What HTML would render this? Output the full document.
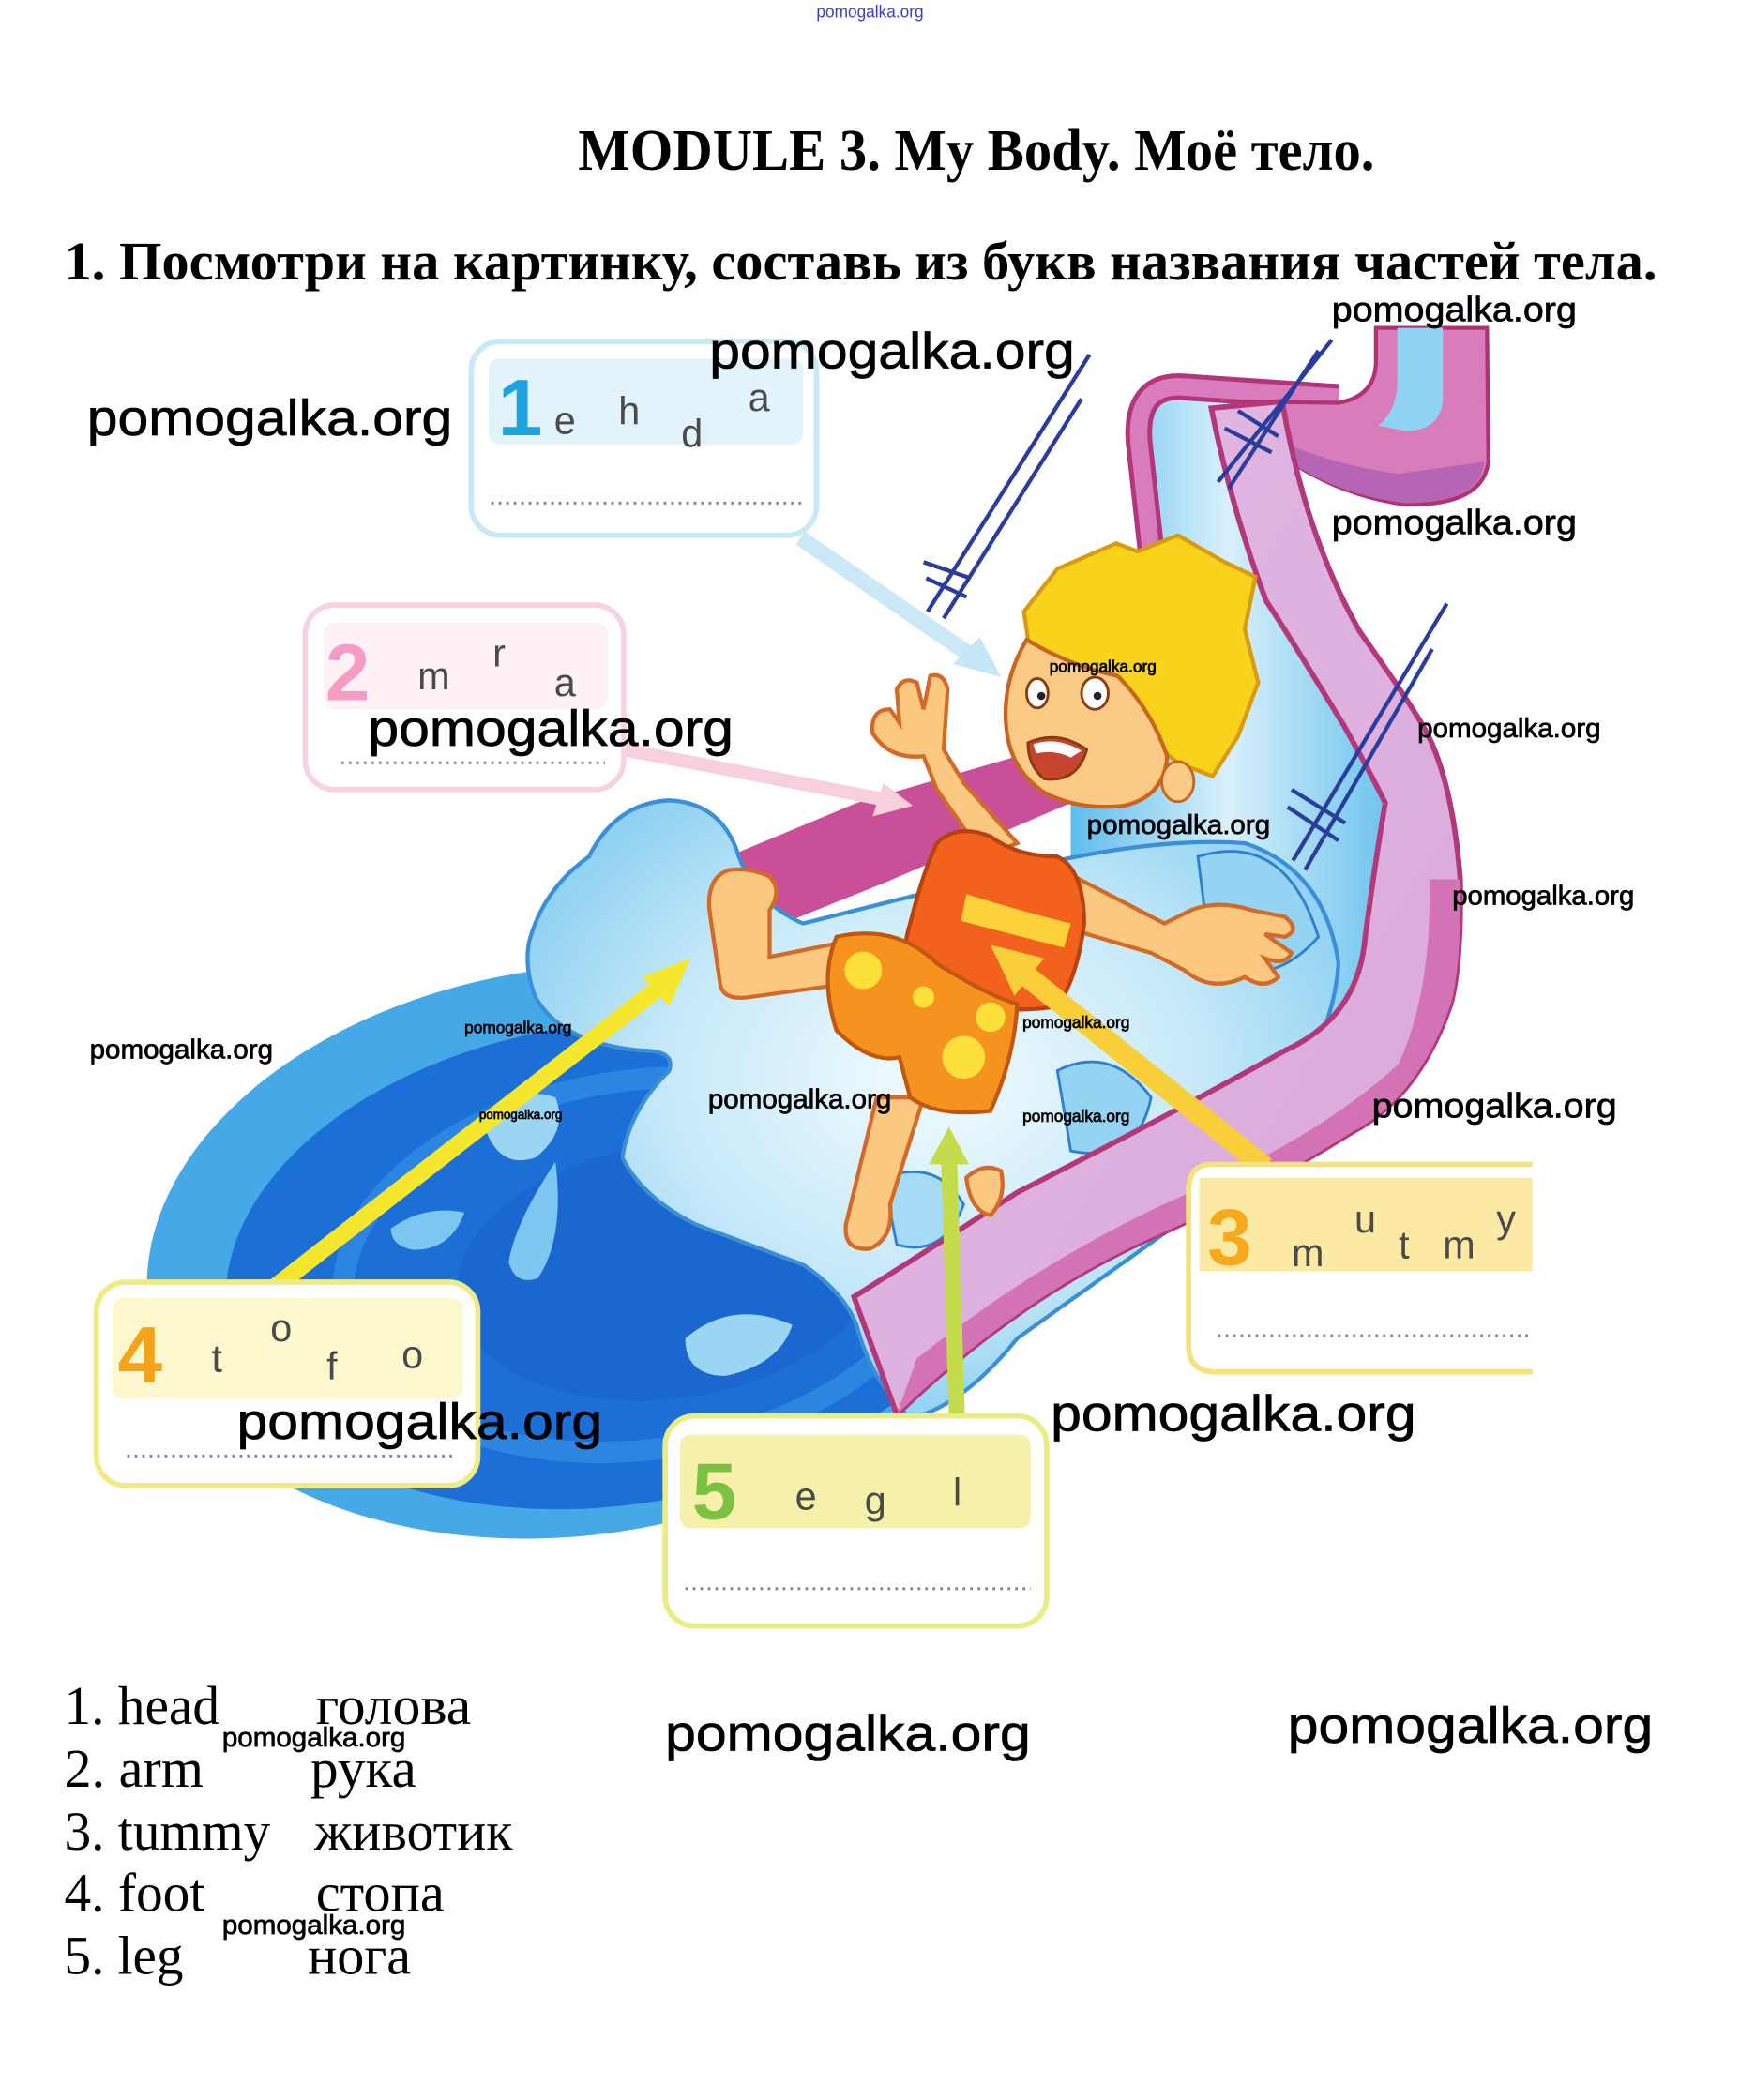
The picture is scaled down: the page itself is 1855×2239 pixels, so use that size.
<!DOCTYPE html>
<html><head><meta charset="utf-8"><style>
html,body{margin:0;padding:0;background:#fff;}
svg{display:block;}
.wm{font-family:"Liberation Sans",sans-serif;fill:#000;stroke:#000;stroke-width:0.5;}
.ser{font-family:"Liberation Serif","Noto Serif CJK SC",serif;fill:#000;}
.lt{font-family:"Liberation Sans",sans-serif;fill:#4a4a4a;font-size:29px;}
.num{font-family:"Liberation Sans",sans-serif;font-weight:bold;font-size:60px;}
</style></head><body>
<svg width="1855" height="2239" viewBox="0 0 1300 1569.1" preserveAspectRatio="none" xmlns="http://www.w3.org/2000/svg">
<defs>
<radialGradient id="spl" cx="0.5" cy="0.45" r="0.6"><stop offset="0" stop-color="#f2fbff"/><stop offset="0.55" stop-color="#c6e9f9"/><stop offset="1" stop-color="#86cdf0"/></radialGradient>
<linearGradient id="sl" x1="0" y1="0" x2="1" y2="0"><stop offset="0" stop-color="#5fbcec"/><stop offset="0.5" stop-color="#d8f0fb"/><stop offset="1" stop-color="#6fc4ee"/></linearGradient>
<linearGradient id="band" x1="0" y1="0" x2="1" y2="1"><stop offset="0" stop-color="#e2bde3"/><stop offset="1" stop-color="#d9a6da"/></linearGradient>
</defs>
<rect x="0" y="0" width="1300" height="1570" fill="#fff"/>

<!-- top small watermark -->
<text x="610" y="13" font-family="Liberation Sans Narrow,Liberation Sans,sans-serif" font-size="13" fill="#3b3bd0" textLength="80" lengthAdjust="spacingAndGlyphs">pomogalka.org</text>

<!-- title -->
<text class="ser" x="432" y="127" font-size="44" font-weight="bold" textLength="595" lengthAdjust="spacingAndGlyphs">MODULE 3. My Body. Моё тело.</text>
<text class="ser" x="48" y="209" font-size="41" font-weight="bold" textLength="1190" lengthAdjust="spacingAndGlyphs">1. Посмотри на картинку, составь из букв названия частей тела.</text>

<!-- ===== ILLUSTRATION ===== -->
<!-- pool -->
<ellipse cx="430" cy="935" rx="322" ry="212" fill="#45a9e8" transform="rotate(-8 430 935)"/>
<ellipse cx="455" cy="945" rx="288" ry="180" fill="#1c6fd6" transform="rotate(-8 455 945)"/>
<ellipse cx="480" cy="945" rx="225" ry="138" fill="none" stroke="#2d85e2" stroke-width="16" transform="rotate(-8 480 945)"/>
<ellipse cx="500" cy="950" rx="160" ry="95" fill="#1a68cf" transform="rotate(-8 500 950)"/>
<!-- droplets in pool -->
<path d="M292 918 q25 -18 55 -12 q-10 28 -38 28 q-17 -3 -17 -16z" fill="#7cc6ef"/>
<path d="M415 868 q-30 45 -35 75 q5 18 22 12 q20 -30 13 -87z" fill="#7cc6ef"/>
<path d="M360 835 q25 -25 55 -15 q10 25 -15 45 q-30 10 -40 -30z" fill="#9ad6f4"/>
<path d="M512 1000 q35 -30 80 -10 q-10 30 -50 38 q-30 0 -30 -28z" fill="#9ad6f4"/>

<!-- far slide rim behind boy -->
<path d="M455 705 Q470 670 520 650 L640 600 L760 565 L800 600 L660 660 L560 700 L470 730z" fill="#c94f98"/>

<!-- chute blue -->
<path d="M850 300 Q850 283 870 283 L960 290 L960 330 Q930 400 946 449 Q975 500 1004 542 L1035 600 L1025 700 L1000 780 L800 800 L800 560 Q845 470 852 400 Z" fill="url(#sl)"/>
<!-- left pink edge of chute -->
<path d="M862 430 L851 330 Q848 288 882 289 L1000 297" fill="none" stroke="#b3357a" stroke-width="20"/>
<path d="M862 430 L851 330 Q848 288 882 289 L1000 297" fill="none" stroke="#d97cbc" stroke-width="13"/>

<!-- upper strip -->
<path d="M1028 245 L1111 245 L1112 345 Q1108 378 1050 377 Q1000 370 960 342 L935 325 L930 300 L1000 301 Q1028 296 1028 270 Z" fill="#d87cbc" stroke="#b03272" stroke-width="3"/>
<path d="M1044 245 L1078 245 L1078 300 Q1075 322 1050 322 L1030 318 Q1044 306 1044 285 Z" fill="#8fd3f2"/>
<path d="M962 332 Q1000 348 1045 354 L1109 345 Q1106 376 1050 376 Q1000 370 962 344 Z" fill="#b565b3"/>

<!-- splash -->
<path d="M395 705 Q405 665 440 640 Q460 600 500 598 Q540 600 552 640 Q565 675 600 690 L760 650 Q860 625 930 630 Q990 650 1000 720 Q995 790 940 830 L900 900 L760 1000 Q720 1050 680 1060 Q650 1030 640 990 Q630 965 600 945 Q560 930 520 915 Q480 895 465 865 Q470 830 500 800 Q505 785 480 785 Q420 780 400 745 Q392 725 395 705Z" fill="url(#spl)" stroke="#3a8fd8" stroke-width="3"/>
<path d="M895 640 Q960 620 985 700 Q950 740 905 720z" fill="#95d3f3" stroke="#2e7fd0" stroke-width="2"/>
<path d="M790 800 Q830 780 860 820 Q850 870 800 860z" fill="#95d3f3" stroke="#2e7fd0" stroke-width="2"/>
<path d="M660 880 Q700 865 720 900 Q705 940 670 930z" fill="#a6dbf5" stroke="#2e7fd0" stroke-width="2"/>

<!-- main slide band -->
<path d="M905 305 L958 300 Q975 400 1016 472 Q1050 520 1063 542 Q1085 580 1091 657 Q1092 720 1084 750 Q1060 820 1010 846 Q940 890 860 925 Q760 970 670 1057 L638 969 Q700 930 760 891 Q880 830 960 785 Q1015 760 1020 700 Q1028 640 1035 600 Q1020 570 1004 542 Q960 470 946 449 Q920 380 905 305 Z" fill="url(#band)" stroke="#b3387a" stroke-width="4"/>
<path d="M1091 657 Q1092 720 1084 750 Q1060 820 1010 846 Q940 890 860 925 Q760 970 670 1057 L685 1015 Q780 940 880 895 Q985 850 1045 795 Q1070 740 1068 657 Z" fill="#d472b6"/>

<!-- hatch lines -->
<g stroke="#2a3c9c" stroke-width="3" fill="none">
<line x1="814" y1="265" x2="693" y2="457"/><line x1="808" y1="298" x2="705" y2="462"/>
<line x1="690" y1="420" x2="725" y2="432"/><line x1="692" y1="432" x2="722" y2="446"/>
<line x1="995" y1="254" x2="910" y2="360"/><line x1="985" y1="262" x2="918" y2="365"/>
<line x1="915" y1="320" x2="950" y2="338"/><line x1="925" y1="307" x2="955" y2="326"/>
<line x1="1081" y1="451" x2="966" y2="643"/><line x1="1070" y1="485" x2="975" y2="650"/>
<line x1="965" y1="590" x2="1005" y2="615"/><line x1="962" y1="603" x2="1000" y2="628"/>
</g>

<!-- boy: legs & arms -->
<g stroke="#d26a28" stroke-width="3" fill="#fbc882">
<path d="M633 735 L560 745 Q540 748 538 735 L530 680 Q528 655 545 650 Q560 648 575 655 Q585 665 575 680 L575 715 L625 705z"/>
<path d="M690 820 L665 900 Q668 925 650 933 Q630 935 632 915 L655 820z"/>
<path d="M722 880 Q735 868 748 875 Q752 895 740 908 Q725 905 722 880z"/>
<path d="M735 640 L700 590 L690 565 Q665 568 652 548 Q650 530 665 530 L672 540 L670 515 Q675 505 685 510 L690 530 L695 505 Q705 502 708 515 L705 560 L720 585 L760 630z"/>
<path d="M795 651 L870 690 L890 680 Q910 672 935 680 L960 685 Q972 695 960 700 L945 698 L965 712 Q960 722 945 716 L955 730 Q945 740 930 730 Q905 742 885 725 L860 712 L785 690z"/>
</g>
<!-- shirt -->
<path d="M700 630 Q715 615 740 625 Q760 640 790 640 Q810 650 810 690 Q805 730 790 752 Q740 760 690 740 Q670 720 680 690 Q690 650 700 630z" fill="#f2621c" stroke="#b8410f" stroke-width="3"/>
<path d="M722 668 Q760 680 800 690 L795 708 Q755 698 718 688z" fill="#fbd23a"/>
<!-- shorts -->
<path d="M625 700 Q670 690 700 720 Q740 745 760 750 Q758 790 740 830 Q700 835 680 820 L672 790 Q650 795 625 770 Q612 730 625 700z" fill="#f6921e" stroke="#c0580f" stroke-width="3"/>
<circle cx="645" cy="725" r="14" fill="#fde03a"/><circle cx="720" cy="790" r="16" fill="#fde03a"/><circle cx="740" cy="760" r="11" fill="#fde03a"/><circle cx="690" cy="745" r="8" fill="#fde03a"/>
<!-- hair & face -->
<path d="M765 457 L790 425 L834 406 L850 412 L880 400 L915 420 L938 431 L930 470 L940 510 L925 550 L906 580 L880 570 L850 545 L820 510 L790 505 L770 490z" fill="#f9d21c" stroke="#d99a10" stroke-width="3"/>
<path d="M767 478 Q800 498 835 505 Q860 530 872 565 Q870 595 840 602 Q806 606 780 592 Q755 575 752 545 Q748 510 767 478z" fill="#fbcb85" stroke="#c9651f" stroke-width="3"/>
<ellipse cx="880" cy="584" rx="12" ry="15" fill="#fbcb85" stroke="#c9651f" stroke-width="2"/>
<ellipse cx="775" cy="518" rx="8" ry="11" fill="#fff" stroke="#8a3c10" stroke-width="2"/>
<ellipse cx="818" cy="518" rx="10" ry="12" fill="#fff" stroke="#8a3c10" stroke-width="2"/>
<circle cx="778" cy="520" r="3" fill="#222"/><circle cx="820" cy="520" r="3" fill="#222"/>
<path d="M768 555 Q790 545 812 560 Q805 585 780 582 Q768 572 768 555z" fill="#c7452e" stroke="#8a3c10" stroke-width="2"/>
<path d="M772 556 Q790 550 808 561 L800 566 Q788 560 774 563z" fill="#fff"/>

<!-- arrows -->
<g>
<line x1="598" y1="402" x2="730" y2="493" stroke="#c5e6f6" stroke-width="12" opacity="0.9"/>
<polygon points="748,506 712,496 732,476" fill="#c5e6f6"/>
<line x1="466" y1="560" x2="664" y2="598" stroke="#f8cfdd" stroke-width="10"/>
<polygon points="682,602 652,610 660,585" fill="#f8cfdd"/>
<line x1="205" y1="962" x2="500" y2="732" stroke="#f5e62e" stroke-width="13"/>
<polygon points="516,716 480,730 500,752" fill="#f5e62e"/>
<line x1="945" y1="872" x2="758" y2="722" stroke="#f8ce3a" stroke-width="16"/>
<polygon points="740,706 780,716 758,744" fill="#f8ce3a"/>
<line x1="715" y1="1062" x2="709" y2="862" stroke="#c4dc4c" stroke-width="12"/>
<polygon points="709,842 694,870 724,870" fill="#c4dc4c"/>
</g>

<!-- boxes -->
<g stroke-width="4">
<rect x="352" y="255" width="258" height="145" rx="22" fill="#fff" stroke="#c9e8f5"/>
<rect x="365" y="268" width="235" height="64" rx="8" fill="#e2f3fb" stroke="none"/>
<rect x="228" y="452" width="238" height="138" rx="22" fill="#fff" stroke="#f7d3de"/>
<rect x="242" y="465" width="212" height="65" rx="8" fill="#fdf1f5" stroke="none"/>
<path d="M1145 870 L905 870 Q888 870 888 890 L888 1005 Q888 1025 908 1025 L1145 1025" fill="#fff" stroke="#f4e27c"/>
<rect x="896" y="880" width="249" height="70" fill="#fbe9a4" stroke="none"/>
<rect x="72" y="958" width="285" height="152" rx="22" fill="#fff" stroke="#f0eb84"/>
<rect x="84" y="970" width="262" height="75" rx="8" fill="#fcf7cc" stroke="none"/>
<rect x="497" y="1058" width="285" height="157" rx="22" fill="#fff" stroke="#ecec84"/>
<rect x="508" y="1072" width="262" height="70" rx="8" fill="#f5f1aa" stroke="none"/>
</g>
<g stroke="#8a8a8a" stroke-width="2.2" stroke-dasharray="2 3.6" fill="none">
<line x1="367" y1="376" x2="600" y2="376"/>
<line x1="255" y1="570" x2="452" y2="570"/>
<line x1="910" y1="998" x2="1145" y2="998"/>
<line x1="95" y1="1088" x2="340" y2="1088"/>
<line x1="512" y1="1187" x2="770" y2="1187"/>
</g>
<!-- box numbers -->
<text class="num" x="372" y="325" fill="#1da2e2">1</text>
<text class="num" x="243" y="523" fill="#f59cc4">2</text>
<text class="num" x="902" y="945" fill="#f7a81b">3</text>
<text class="num" x="88" y="1033" fill="#f7a21b">4</text>
<text class="num" x="517" y="1135" fill="#7dc142">5</text>
<!-- box letters -->
<text class="lt" x="414" y="324">e</text><text class="lt" x="462" y="317">h</text><text class="lt" x="509" y="334">d</text><text class="lt" x="559" y="307">a</text>
<text class="lt" x="312" y="515">m</text><text class="lt" x="368" y="498">r</text><text class="lt" x="414" y="520">a</text>
<text class="lt" x="965" y="946">m</text><text class="lt" x="1012" y="921">u</text><text class="lt" x="1045" y="940">t</text><text class="lt" x="1078" y="940">m</text><text class="lt" x="1118" y="921">y</text>
<text class="lt" x="158" y="1025">t</text><text class="lt" x="202" y="1002">o</text><text class="lt" x="244" y="1031">f</text><text class="lt" x="300" y="1022">o</text>
<text class="lt" x="594" y="1128">e</text><text class="lt" x="646" y="1131">g</text><text class="lt" x="712" y="1125">l</text>

<!-- watermarks over illustration -->
<text class="wm" x="995" y="240" font-size="26" textLength="183" lengthAdjust="spacingAndGlyphs">pomogalka.org</text>
<text class="wm" x="530" y="275" font-size="38" textLength="273" lengthAdjust="spacingAndGlyphs">pomogalka.org</text>
<text class="wm" x="65" y="325" font-size="38" textLength="273" lengthAdjust="spacingAndGlyphs">pomogalka.org</text>
<text class="wm" x="995" y="399" font-size="26" textLength="183" lengthAdjust="spacingAndGlyphs">pomogalka.org</text>
<text class="wm" x="784" y="502" font-size="12" stroke-width="0.2" textLength="80" lengthAdjust="spacingAndGlyphs">pomogalka.org</text>
<text class="wm" x="275" y="557" font-size="38" textLength="273" lengthAdjust="spacingAndGlyphs">pomogalka.org</text>
<text class="wm" x="1059" y="551" font-size="20" stroke-width="0.3" textLength="137" lengthAdjust="spacingAndGlyphs">pomogalka.org</text>
<text class="wm" x="812" y="623" font-size="20" stroke-width="0.3" textLength="137" lengthAdjust="spacingAndGlyphs">pomogalka.org</text>
<text class="wm" x="1085" y="676" font-size="20" stroke-width="0.3" textLength="136" lengthAdjust="spacingAndGlyphs">pomogalka.org</text>
<text class="wm" x="347" y="772" font-size="12" stroke-width="0.2" textLength="80" lengthAdjust="spacingAndGlyphs">pomogalka.org</text>
<text class="wm" x="764" y="768" font-size="12" stroke-width="0.2" textLength="80" lengthAdjust="spacingAndGlyphs">pomogalka.org</text>
<text class="wm" x="67" y="791" font-size="20" stroke-width="0.3" textLength="137" lengthAdjust="spacingAndGlyphs">pomogalka.org</text>
<text class="wm" x="529" y="828" font-size="20" stroke-width="0.3" textLength="137" lengthAdjust="spacingAndGlyphs">pomogalka.org</text>
<text class="wm" x="1025" y="835" font-size="26" textLength="183" lengthAdjust="spacingAndGlyphs">pomogalka.org</text>
<text class="wm" x="358" y="836" font-size="9.5" stroke-width="0.15" textLength="62" lengthAdjust="spacingAndGlyphs">pomogalka.org</text>
<text class="wm" x="764" y="838" font-size="12" stroke-width="0.2" textLength="80" lengthAdjust="spacingAndGlyphs">pomogalka.org</text>
<text class="wm" x="785" y="1069" font-size="38" textLength="273" lengthAdjust="spacingAndGlyphs">pomogalka.org</text>
<text class="wm" x="177" y="1075" font-size="38" textLength="273" lengthAdjust="spacingAndGlyphs">pomogalka.org</text>

<!-- answers list -->
<g class="ser" font-size="41">
<text x="48" y="1288" textLength="116" lengthAdjust="spacingAndGlyphs">1. head</text>
<text x="236" y="1288" textLength="116" lengthAdjust="spacingAndGlyphs">голова</text>
<text x="48" y="1335" textLength="104" lengthAdjust="spacingAndGlyphs">2. arm</text>
<text x="232" y="1335" textLength="79" lengthAdjust="spacingAndGlyphs">рука</text>
<text x="48" y="1382" textLength="154" lengthAdjust="spacingAndGlyphs">3. tummy</text>
<text x="235" y="1382" textLength="148" lengthAdjust="spacingAndGlyphs">животик</text>
<text x="48" y="1428" textLength="105" lengthAdjust="spacingAndGlyphs">4. foot</text>
<text x="236" y="1428" textLength="96" lengthAdjust="spacingAndGlyphs">стопа</text>
<text x="48" y="1475" textLength="89" lengthAdjust="spacingAndGlyphs">5. leg</text>
<text x="230" y="1475" textLength="77" lengthAdjust="spacingAndGlyphs">нога</text>
</g>
<text class="wm" x="166" y="1305" font-size="20" stroke-width="0.3" textLength="137" lengthAdjust="spacingAndGlyphs">pomogalka.org</text>
<text class="wm" x="166" y="1445" font-size="20" stroke-width="0.3" textLength="137" lengthAdjust="spacingAndGlyphs">pomogalka.org</text>
<text class="wm" x="497" y="1308" font-size="38" textLength="273" lengthAdjust="spacingAndGlyphs">pomogalka.org</text>
<text class="wm" x="962" y="1302" font-size="38" textLength="273" lengthAdjust="spacingAndGlyphs">pomogalka.org</text>
</svg>
</body></html>
